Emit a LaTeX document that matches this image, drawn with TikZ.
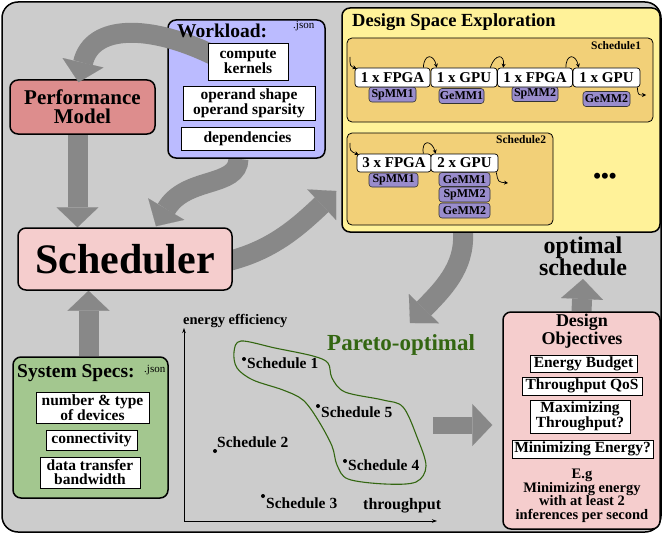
\documentclass[tikz,border=0pt]{standalone}
\usepackage{fontspec}
\setmainfont{Liberation Serif}
\usetikzlibrary{arrows.meta}
\definecolor{bggray}{RGB}{204,204,204}
\definecolor{arrgray}{RGB}{136,136,136}
\definecolor{perffill}{RGB}{221,141,141}
\definecolor{wlfill}{RGB}{187,187,255}
\definecolor{dsefill}{RGB}{255,242,153}
\definecolor{schfill}{RGB}{242,208,120}
\definecolor{kfill}{RGB}{153,140,204}
\definecolor{pinkfill}{RGB}{245,205,205}
\definecolor{specfill}{RGB}{163,199,143}
\definecolor{pgreen}{RGB}{51,102,17}
\newcommand{\fsz}[2]{\fontsize{#1pt}{#2pt}\selectfont\bfseries}
\pgfdeclarelayer{back}
\pgfdeclarelayer{mid}
\pgfsetlayers{back,mid,main}
\begin{document}
\begin{tikzpicture}[x=1pt,y=-1pt,
  mbox/.style={draw=black, line width=1.5pt, rounded corners=8pt, inner sep=0pt},
  wbox/.style={draw=black, line width=0.8pt, fill=white, inner sep=0pt, align=center, font=\fsz{15.5}{14}},
  devbox/.style={draw=black, line width=0.7pt, fill=white, rounded corners=3pt, inner sep=0pt, minimum height=19pt, font=\fsz{15}{15}},
  kbox/.style={draw=black!80, line width=0.6pt, fill=kfill, rounded corners=3pt, inner sep=0pt, minimum height=15pt, font=\fsz{12}{12}},
  schbox/.style={draw=black, line width=0.8pt, fill=schfill, rounded corners=5pt, inner sep=0pt},
  bigarrow/.style={line width=20pt, color=arrgray, -{Triangle[width=42pt,length=20pt,line width=0.1pt]}},
  smallarrow/.style={draw=black, line width=0.7pt, -{Stealth[length=4pt,width=4pt]}},
  lbl/.style={inner sep=0pt, anchor=base west},
  sdot/.style={circle, fill=black, inner sep=0pt, minimum size=4pt}
]
\useasboundingbox (0,0) rectangle (664,535);

% outer frame
\begin{pgfonlayer}{back}
\node[mbox, fill=bggray, rounded corners=16pt, minimum width=659pt, minimum height=530pt] (frame) at (331.5,267) {};
\end{pgfonlayer}

% main boxes
\node[mbox, fill=perffill, minimum width=145pt, minimum height=54pt, align=center, font=\fsz{21}{19}] (perf) at (82.5,107) {Performance\\Model};
\node[mbox, fill=wlfill, minimum width=157pt, minimum height=138pt] (wl) at (246.5,89) {};
\node[mbox, fill=dsefill, minimum width=318pt, minimum height=224pt] (dse) at (501,120) {};
\node[mbox, fill=pinkfill, minimum width=214pt, minimum height=62pt, font=\fsz{42}{42}] (sched) at (125,259) {Scheduler};
\node[mbox, fill=specfill, minimum width=155pt, minimum height=141pt] (specs) at (90.5,427.5) {};
\node[mbox, fill=pinkfill, minimum width=157pt, minimum height=217pt] (obj) at (581.5,420.5) {};

% optimal schedule text
\node[align=center, font=\fsz{24}{22}] (opt) at (583,256) {optimal\\schedule};

% coordinates for free ends
\coordinate (a5end) at (410,323);
\coordinate (p6) at (433,425);

% gray arrows
\begin{pgfonlayer}{mid}
\draw[bigarrow] ([xshift=-5pt]perf.south) -- ([xshift=-5pt]perf.south |- sched.north);
\draw[bigarrow] ([xshift=-8pt]wl.south) .. controls (238,188) and (186,176) .. ([xshift=31pt,yshift=1pt]sched.north);
\draw[bigarrow] ([xshift=-4pt,yshift=-2pt]sched.east) .. controls (272,250) and (297,228) .. ([xshift=-5pt,yshift=-71pt]dse.west);
\draw[bigarrow] ([xshift=-38pt]dse.south) .. controls (465,268) and (442,290) .. (a5end);
\draw[bigarrow, line width=17pt] (p6) -- (p6 -| obj.west) [shorten >=10pt];
\draw[bigarrow] (obj.north) -- (opt.south);
\draw[bigarrow] ([xshift=-2pt]specs.north) -- ([xshift=-2pt]specs.north |- sched.south);
\end{pgfonlayer}

% workload -> performance model arrow (over workload box)
\draw[bigarrow] (215,56) .. controls (150,24) and (92,24) .. ([xshift=-4pt,yshift=-3pt]perf.north);

% workload contents
\node[lbl, font=\fsz{19.5}{19}] (wltitle) at (177,38) {Workload:};
\node[lbl, font=\fontsize{11}{11}\selectfont] (wljson) at (293,29) {.json};
\node[wbox, minimum width=80pt, minimum height=37pt] (ck) at (248,61.5) {compute\\kernels};
\node[wbox, minimum width=132pt, minimum height=34pt] (os) at (249,103) {operand shape\\operand sparsity};
\node[wbox, minimum width=133pt, minimum height=23pt] (dep) at (247.5,138.5) {dependencies};

% DSE contents
\node[lbl, font=\fsz{18.5}{18}] (dsetitle) at (352,27) {Design Space Exploration};
\node[schbox, minimum width=306pt, minimum height=84pt] (s1) at (500,80) {};
\node[schbox, minimum width=206pt, minimum height=92pt] (s2) at (450,179) {};
\node[lbl, font=\fsz{11.5}{11}] (s1lbl) at (591,50) {Schedule1};
\node[lbl, font=\fsz{11.5}{11}] (s2lbl) at (496,143) {Schedule2};

\node[kbox, minimum width=47pt] (k11) at (392.5,94.5) {SpMM1};
\node[kbox, minimum width=45pt] (k12) at (461.5,96) {GeMM1};
\node[kbox, minimum width=46pt] (k13) at (535,94) {SpMM2};
\node[kbox, minimum width=47pt] (k14) at (606.5,99) {GeMM2};
\node[devbox, minimum width=75pt] (f1) at (392.5,77.5) {1 x FPGA};
\node[devbox, minimum width=66pt] (g1) at (464,77.5) {1 x GPU};
\node[devbox, minimum width=75pt] (f2) at (535,77.5) {1 x FPGA};
\node[devbox, minimum width=67pt] (g2) at (606.5,77.5) {1 x GPU};

\node[kbox, minimum width=49pt, minimum height=14pt] (k21) at (393.5,180) {SpMM1};
\node[kbox, minimum width=51pt, minimum height=14pt] (k22) at (464.5,179.5) {GeMM1};
\node[kbox, minimum width=51pt, minimum height=15pt] (k23) at (464.5,194.5) {SpMM2};
\node[kbox, minimum width=51pt, minimum height=15pt] (k24) at (464.5,210.5) {GeMM2};
\node[devbox, minimum width=74pt, minimum height=18pt] (f3) at (394,163) {3 x FPGA};
\node[devbox, minimum width=67pt, minimum height=18pt] (g3) at (464.5,163) {2 x GPU};

\node[font=\fsz{22}{22}] (dots) at (605,178) {•••};

% small flow arrows
\coordinate (e1) at (350,57);
\coordinate (x1) at (646,95);
\coordinate (e2) at (350,143);
\coordinate (x2) at (508,183);
\draw[smallarrow] (e1) .. controls (350,66) .. ([xshift=2pt,yshift=-1pt]f1.north west);
\draw[smallarrow] ([xshift=-7pt]f1.north east) .. controls (424,53) and (434,54) .. ([xshift=6pt]g1.north west);
\draw[smallarrow] ([xshift=-7pt]g1.north east) .. controls (495,53) and (505,54) .. ([xshift=6pt]f2.north west);
\draw[smallarrow] ([xshift=-7pt]f2.north east) .. controls (566,53) and (576,54) .. ([xshift=6pt]g2.north west);
\draw[smallarrow] ([xshift=-3pt]g2.south east) .. controls (638,95) .. (x1);
\draw[smallarrow] (e2) .. controls (350,151) .. ([xshift=2pt,yshift=-1pt]f3.north west);
\draw[smallarrow] ([xshift=-8pt]f3.north east) .. controls (421,139) and (432,140) .. ([xshift=5pt]g3.north west);
\draw[smallarrow] ([xshift=-2pt]g3.south east) .. controls (498,182) .. (x2);

% System specs contents
\node[lbl, font=\fsz{19.5}{19}] (spectitle) at (17,377) {System Specs:};
\node[lbl, font=\fontsize{11}{11}\selectfont] (specjson) at (144,372) {.json};
\node[wbox, minimum width=113pt, minimum height=31pt] (nt) at (92.5,407.5) {number \& type\\of devices};
\node[wbox, minimum width=91pt, minimum height=20pt] (conn) at (91.5,440) {connectivity};
\node[wbox, minimum width=100pt, minimum height=31pt] (dtb) at (90,472.5) {data transfer\\bandwidth};

% Design objectives contents
\node[align=center, font=\fsz{18}{16}] (objtitle) at (582,331) {Design\\Objectives};
\node[wbox, minimum width=107pt, minimum height=17pt] (eb) at (583.5,363.5) {Energy Budget};
\node[wbox, minimum width=120pt, minimum height=18pt] (tq) at (582,386) {Throughput QoS};
\node[wbox, minimum width=100pt, minimum height=33pt] (mt) at (580,416.5) {Maximizing\\Throughput?};
\node[wbox, minimum width=141pt, minimum height=18pt] (me) at (582.5,449) {Minimizing Energy?};
\node[align=center, inner sep=0pt, font=\fsz{14.5}{13.5}] (eg) at (582,496) {E.g\\Minimizing energy\\with at least 2\\inferences per second};

% plot
\coordinate (O) at (184,521);
\coordinate (ytop) at (184,328);
\coordinate (xend) at (437,521);
\draw[line width=0.8pt, -{Stealth[length=5pt,width=3.5pt]}] (O) -- (ytop);
\draw[line width=0.8pt, -{Stealth[length=5pt,width=3.5pt]}] (O) -- (xend);
\node[lbl, font=\fsz{14.5}{14}] (yl) at (183,324) {energy efficiency};
\node[lbl, font=\fsz{16}{16}] (xl) at (363,509) {throughput};
\node[lbl, font=\fsz{23}{23}, text=pgreen] (pareto) at (327,350) {Pareto-optimal};

\draw[pgreen, line width=1.1pt] plot[smooth cycle, tension=0.55] coordinates {(241,341) (275,348) (313,356) (328,363) (332,378) (345,392) (383,400) (403,407) (417,437) (426,466) (416,482) (385,484) (348,479) (337,465) (332,446) (318,420) (303,400) (283,390) (253,380) (237,368) (234,352)};

\node[sdot] (d1) at (244,359) {};
\node[lbl, font=\fsz{15.5}{15}] (t1) at (247,368) {Schedule 1};
\node[sdot] (d5) at (318,406) {};
\node[lbl, font=\fsz{15.5}{15}] (t5) at (321,417) {Schedule 5};
\node[sdot] (d2) at (215,451) {};
\node[lbl, font=\fsz{15.5}{15}] (t2) at (217,447) {Schedule 2};
\node[sdot] (d4) at (345,461) {};
\node[lbl, font=\fsz{15.5}{15}] (t4) at (348,470) {Schedule 4};
\node[sdot] (d3) at (263,496) {};
\node[lbl, font=\fsz{15.5}{15}] (t3) at (266,508) {Schedule 3};
\end{tikzpicture}
\end{document}
